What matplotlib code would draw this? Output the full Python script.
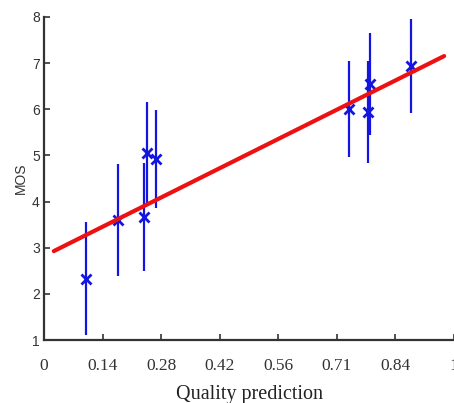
import matplotlib.pyplot as plt
import numpy as np

# quality prediction vs. mean opinion score, with std bars
pred = [0.102, 0.180, 0.244, 0.251, 0.273, 0.744, 0.790, 0.795, 0.895]
mos = [2.33, 3.60, 3.67, 5.05, 4.92, 6.01, 5.94, 6.55, 6.94]
mos_std = [1.22, 1.22, 1.17, 1.10, 1.07, 1.04, 1.10, 1.10, 1.01]

# linear fit
fit_slope = 4.44
fit_intercept = 2.82
fit_range = [0.024, 0.976]

xtick_labels = ['0', '0.14', '0.28', '0.42', '0.56', '0.71', '0.84', '1']
ytick_vals = [1, 2, 3, 4, 5, 6, 7, 8]

fig = plt.figure(figsize=(4.54, 4.03), dpi=100)
ax = fig.add_axes([44 / 454, 63 / 403, 410 / 454, 323 / 403])

ax.errorbar(pred, mos, yerr=mos_std, fmt='none', ecolor='#1515e0', elinewidth=1.6, capsize=0)
ax.plot(pred, mos, 'x', color='#1515e0', markersize=7, markeredgewidth=2)

xf = np.array(fit_range)
ax.plot(xf, fit_slope * xf + fit_intercept, color='#ee1111', linewidth=3, solid_capstyle='round')

ax.set_xlim(0, 1)
ax.set_ylim(1, 8)
ax.set_xticks(np.arange(len(xtick_labels)) / 7)
ax.set_xticklabels(xtick_labels, family='Liberation Serif', fontsize=12.5, color='#333333')
ax.set_yticks(ytick_vals)
ax.set_yticklabels([str(v) for v in ytick_vals], family='Liberation Sans', fontsize=10, color='#333333')
ax.tick_params(direction='in', length=4, width=1.2, color='#333333')
ax.tick_params(axis='x', pad=13)
ax.tick_params(axis='y', pad=3)

for s in ['top', 'right']:
    ax.spines[s].set_visible(False)
for s in ['left', 'bottom']:
    ax.spines[s].set_linewidth(1.6)
    ax.spines[s].set_color('#333333')

ax.set_xlabel('Quality prediction', family='Liberation Serif', fontsize=14.5, color='#222222', labelpad=8)
ax.set_ylabel('MOS', family='Liberation Sans', fontsize=10, color='#333333', labelpad=3)

fig.savefig('out.png', dpi=100)
